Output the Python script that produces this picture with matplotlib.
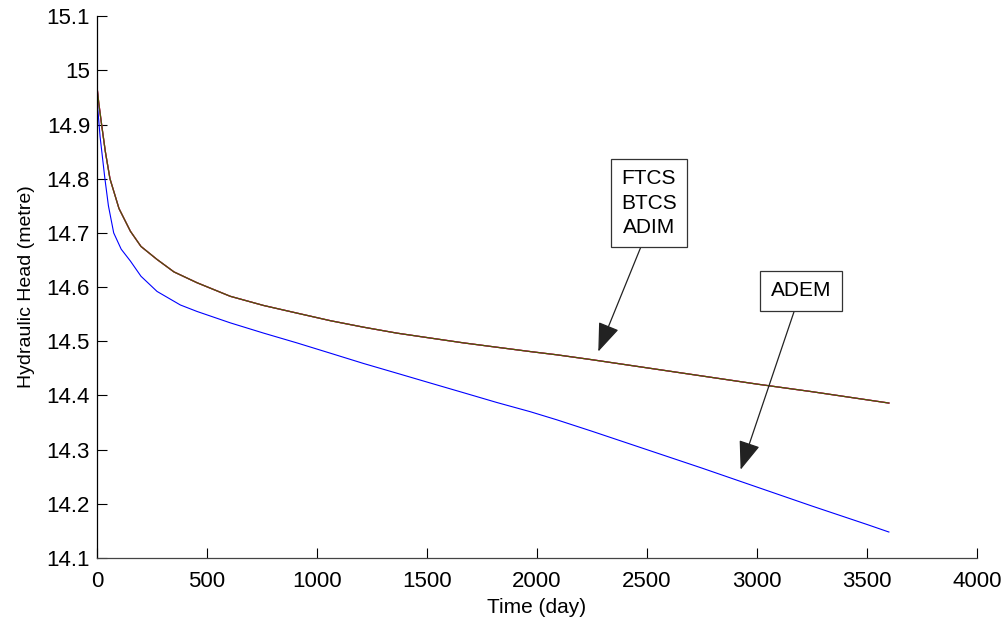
"""Hydraulic head vs time - FTCS / BTCS / ADIM / ADEM comparison."""

import matplotlib.pyplot as plt
from matplotlib.ticker import FormatStrFormatter

plt.rcParams["font.family"] = ["Liberation Sans", "DejaVu Sans"]

# Time (day) for the three overlapping schemes
time_day = [0, 0, 8, 21, 38, 59, 100, 152, 200, 273, 350, 455, 606, 758,
            909, 1061, 1212, 1364, 1515, 1667, 1818, 1970, 2091, 2250,
            2500, 2750, 3000, 3250, 3500, 3600]

head_ftcs = [15.0, 14.97, 14.94, 14.90, 14.85, 14.80, 14.745, 14.703,
             14.675, 14.651, 14.628, 14.608, 14.583, 14.566, 14.552,
             14.538, 14.526, 14.515, 14.506, 14.497, 14.489, 14.481,
             14.475, 14.466, 14.451, 14.436, 14.421, 14.407, 14.392, 14.386]
head_btcs = list(head_ftcs)
head_adim = list(head_ftcs)

# ADEM scheme
time_adem = [0, 2, 14, 36, 52, 76, 110, 152, 200, 273, 379, 455, 606, 758,
             909, 1061, 1212, 1364, 1515, 1667, 1818, 1970, 2091, 2250,
             2500, 2750, 3000, 3250, 3500, 3600]
head_adem = [14.97, 14.937, 14.878, 14.80, 14.75, 14.70, 14.67, 14.648,
             14.62, 14.592, 14.567, 14.555, 14.534, 14.515, 14.497, 14.478,
             14.459, 14.441, 14.423, 14.405, 14.387, 14.370, 14.355, 14.334,
             14.30, 14.266, 14.231, 14.196, 14.162, 14.148]

x_ticks = [0, 500, 1000, 1500, 2000, 2500, 3000, 3500, 4000]
y_ticks = [14.1, 14.2, 14.3, 14.4, 14.5, 14.6, 14.7, 14.8, 14.9, 15.0, 15.1]

fig = plt.figure(figsize=(10.05, 6.21), dpi=100)
ax = fig.add_axes([0.0965, 0.1014, 0.8755, 0.8726])

ax.plot(time_day, head_ftcs, color="red", linewidth=0.9)
ax.plot(time_day, head_btcs, color="magenta", linewidth=0.9)
ax.plot(time_day, head_adim, color="#007f00", linewidth=0.9)
ax.plot(time_day, head_ftcs, color="red", linewidth=0.9, alpha=0.3)
ax.plot(time_adem, head_adem, color="blue", linewidth=0.8)

ax.set_xlim(0, 4000)
ax.set_ylim(14.1, 15.1)
ax.set_xticks(x_ticks)
ax.set_yticks(y_ticks)
ax.yaxis.set_major_formatter(FormatStrFormatter("%g"))
ax.tick_params(direction="in", length=7, width=0.8, labelsize=16)
ax.tick_params(axis="x", pad=9)
ax.tick_params(axis="y", pad=5)
for side in ["top", "right"]:
    ax.spines[side].set_visible(False)
ax.spines["left"].set_linewidth(0.9)
ax.spines["bottom"].set_linewidth(0.9)
ax.spines["bottom"].set_color("#444444")

ax.set_xlabel("Time (day)", fontsize=15, labelpad=5)
ax.set_ylabel("Hydraulic Head (metre)", fontsize=14, labelpad=8)

box = dict(boxstyle="square,pad=0.5", facecolor="white",
           edgecolor="#333333", linewidth=0.9)

ax.annotate("FTCS\nBTCS\nADIM", xy=(2279, 14.481), xytext=(2509, 14.755),
            fontsize=15, ha="center", va="center", linespacing=1.35,
            bbox=box,
            arrowprops=dict(arrowstyle="-|>,head_length=1.2,head_width=0.45",
                            color="#222222", linewidth=0.9, shrinkA=0,
                            shrinkB=0, relpos=(0.43, 0)))
ax.annotate("ADEM", xy=(2926, 14.263), xytext=(3200, 14.593),
            fontsize=15, ha="center", va="center", bbox=box,
            arrowprops=dict(arrowstyle="-|>,head_length=1.2,head_width=0.45",
                            color="#222222", linewidth=0.9, shrinkA=0,
                            shrinkB=0, relpos=(0.45, 0)))

plt.savefig("out.png")
